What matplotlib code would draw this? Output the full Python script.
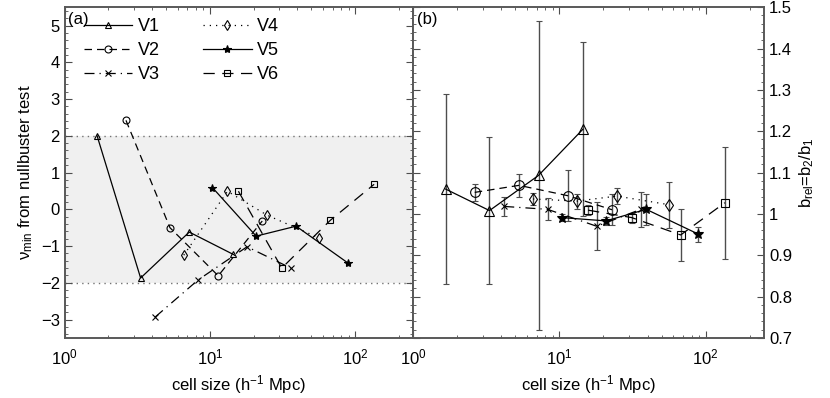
import numpy as np
import matplotlib
matplotlib.use("Agg")
import matplotlib.pyplot as plt
from matplotlib.ticker import MultipleLocator, LogLocator, NullFormatter

plt.rcParams['font.family'] = ['Liberation Sans', 'DejaVu Sans']
plt.rcParams['mathtext.default'] = 'regular'

# --- DATA ---
names = ['V1', 'V2', 'V3', 'V4', 'V5', 'V6']
cell_size = {
    'V1': [1.67, 3.33, 7.2, 14.5],
    'V2': [2.64, 5.3, 11.4, 22.9],
    'V3': [4.2, 8.3, 18.0, 36.0],
    'V4': [6.6, 13.2, 24.7, 56.5],
    'V5': [10.4, 20.8, 39.2, 89.0],
    'V6': [15.7, 31.2, 67.4, 135.0],
}
nu_min = {
    'V1': [2.0, -1.87, -0.62, -1.23],
    'V2': [2.42, -0.50, -1.81, -0.32],
    'V3': [-2.93, -1.92, -1.02, -1.60],
    'V4': [-1.25, 0.49, -0.16, -0.78],
    'V5': [0.59, -0.73, -0.46, -1.46],
    'V6': [0.49, -1.60, -0.30, 0.68],
}
b_rel = {
    'V1': [1.060, 1.008, 1.093, 1.205],
    'V2': [1.052, 1.069, 1.044, 1.010],
    'V3': [1.018, 1.011, 0.970, 1.011],
    'V4': [1.036, 1.031, 1.043, 1.022],
    'V5': [0.991, 0.983, 1.011, 0.951],
    'V6': [1.009, 0.991, 0.949, 1.027],
}
b_err = {
    'V1': [0.23, 0.177, 0.373, 0.21],
    'V2': [0.021, 0.027, 0.062, 0.037],
    'V3': [0.022, 0.027, 0.058, 0.042],
    'V4': [0.014, 0.018, 0.020, 0.055],
    'V5': [0.008, 0.010, 0.037, 0.018],
    'V6': [0.012, 0.012, 0.064, 0.135],
}

# line / marker style per series
styles = {
    'V1': dict(ls='-', marker='^', mfc='none'),
    'V2': dict(ls=(0, (6, 4)), marker='o', mfc='none'),
    'V3': dict(ls=(0, (8, 4, 1, 4)), marker='x', mfc='none'),
    'V4': dict(ls=(0, (1, 4)), marker='d', mfc='none'),
    'V5': dict(ls='-', marker='*', mfc='k'),
    'V6': dict(ls=(0, (9, 6)), marker='s', mfc='none'),
}
msize_a = {'V1': 5, 'V2': 5, 'V3': 4, 'V4': 5, 'V5': 6, 'V6': 4.5}
msize_b = {'V1': 7, 'V2': 7, 'V3': 5, 'V4': 6.5, 'V5': 7, 'V6': 6}

fig = plt.figure(figsize=(8.3, 3.98), dpi=100)
ax1 = fig.add_axes([0.078, 0.151, 0.4196, 0.831])
ax2 = fig.add_axes([0.4976, 0.151, 0.4229, 0.831])

# --- panel (a) ---
ax1.axhspan(-2, 2, color='#f0f0f0', zorder=0, lw=0)
for yy in (-2, 2):
    ax1.axhline(yy, color='0.45', ls=(0, (1, 3)), lw=1, zorder=1)
for n in names:
    st = styles[n]
    ax1.plot(cell_size[n], nu_min[n], color='k', lw=0.9, ls=st['ls'],
             marker=st['marker'], mfc=st['mfc'], mec='k', mew=0.8,
             ms=msize_a[n], label=n, zorder=3)
ax1.set_xscale('log')
ax1.set_xlim(1, 250)
ax1.set_ylim(-3.5, 5.5)
ax1.yaxis.set_major_locator(MultipleLocator(1))
ax1.yaxis.set_minor_locator(MultipleLocator(0.2))
ax1.set_ylabel(r'$\nu_{min}$ from nullbuster test', fontsize=12)
ax1.set_xlabel(r'cell size (h$^{-1}$ Mpc)', fontsize=12)
ax1.text(0.01, 0.985, '(a)', transform=ax1.transAxes, fontsize=12,
         va='top', ha='left')
ax1.legend(ncol=2, loc='upper left', bbox_to_anchor=(0.023, 1.0),
           frameon=False, fontsize=13, handlelength=2.7,
           columnspacing=2.4, labelspacing=0.39, handletextpad=0.3,
           borderaxespad=0.2)

# --- panel (b) ---
for n in names:
    st = styles[n]
    ax2.errorbar(cell_size[n], b_rel[n], yerr=b_err[n], color='k', lw=0.9,
                 ls=st['ls'], marker=st['marker'], mfc=st['mfc'], mec='k',
                 mew=0.8, ms=msize_b[n], ecolor='0.3', elinewidth=1,
                 capsize=2, capthick=0.8, zorder=3)
ax2.set_xscale('log')
ax2.set_xlim(1, 250)
ax2.set_ylim(0.7, 1.5)
ax2.yaxis.set_major_locator(MultipleLocator(0.1))
ax2.yaxis.set_minor_locator(MultipleLocator(0.02))
ax2.yaxis.set_major_formatter(plt.FuncFormatter(lambda v, p: f'{v:g}'))
ax2.yaxis.tick_right()
ax2.yaxis.set_label_position('right')
ax2.set_ylabel(r'b$_{rel}$=b$_2$/b$_1$', fontsize=12)
ax2.set_xlabel(r'cell size (h$^{-1}$ Mpc)', fontsize=12)
ax2.text(0.01, 0.985, '(b)', transform=ax2.transAxes, fontsize=12,
         va='top', ha='left')

for ax in (ax1, ax2):
    ax.xaxis.set_major_locator(LogLocator(base=10))
    ax.xaxis.set_minor_locator(LogLocator(base=10, subs=np.arange(2, 10)))
    ax.xaxis.set_minor_formatter(NullFormatter())
    ax.tick_params(which='both', direction='in', top=True, bottom=True,
                   left=True, right=True, labelsize=12, color='0.3')
    ax.tick_params(which='major', length=5, width=0.8)
    ax.tick_params(which='minor', length=2.5, width=0.6)
    ax.tick_params(axis='x', pad=7)
    for sp in ax.spines.values():
        sp.set_color('0.35')
        sp.set_linewidth(1.4)
ax2.tick_params(axis='y', labelleft=False, labelright=True)

fig.savefig('out.png', dpi=100)
